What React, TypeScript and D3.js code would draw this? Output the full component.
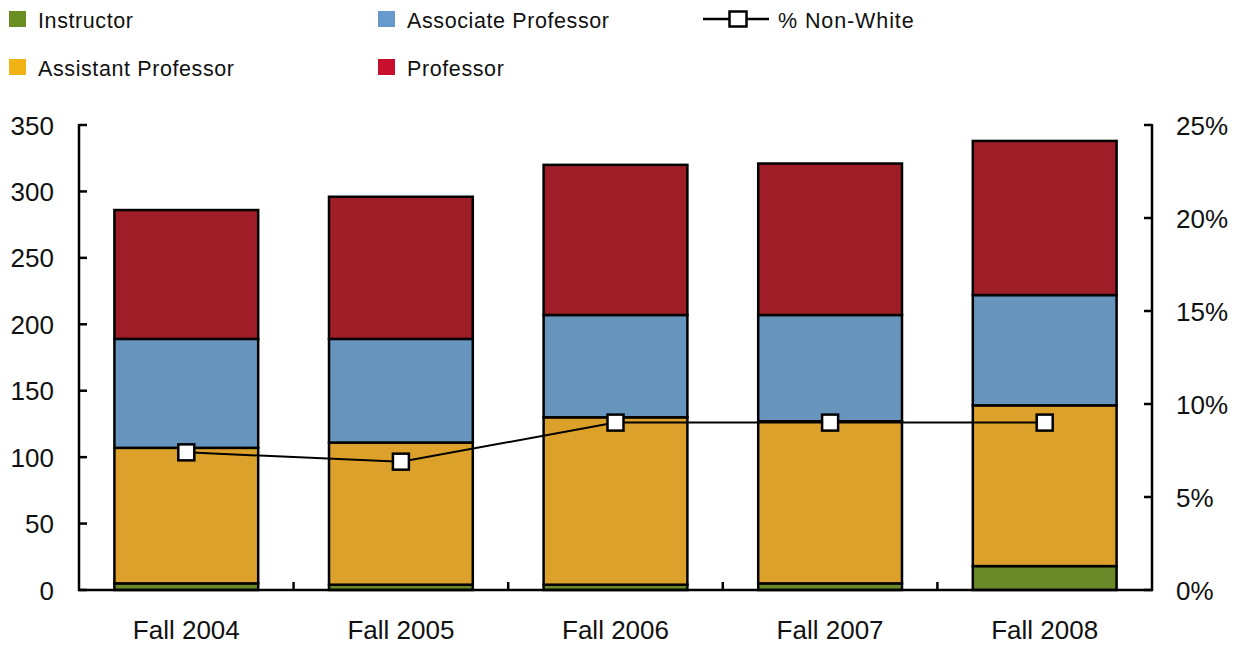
import React from 'react';
import * as d3 from 'd3';

const categories = ['Fall 2004', 'Fall 2005', 'Fall 2006', 'Fall 2007', 'Fall 2008'];
const instructor = [5, 4, 4, 5, 18];
const assistant = [102, 107, 126, 122, 121];
const associate = [82, 78, 77, 80, 83];
const professor = [97, 107, 113, 114, 116];
const nonWhite = [7.4, 6.9, 9.0, 9.0, 9.0];
const leftTicks = [0, 50, 100, 150, 200, 250, 300, 350];
const rightTicks = [0, 5, 10, 15, 20, 25];

const seriesNames = ['Instructor', 'Assistant Professor', 'Associate Professor', 'Professor'];
const barColors = ['#6a8a2a', '#dba12a', '#6795be', '#9e1d27'];
const legendColors = ['#6b8e23', '#f0b214', '#6699cc', '#c8102e'];

const W = 1238;
const H = 646;
const FONT = '"Liberation Sans", Arial, sans-serif';

const App: React.FC = () => {
  const x = d3.scaleBand<string>().domain(categories).range([79, 1152]).paddingInner(0.33).paddingOuter(0.165);
  const y = d3.scaleLinear().domain([0, 350]).range([590, 125]);
  const y2 = d3.scaleLinear().domain([0, 25]).range([590, 125]);

  // stack data
  const rows = categories.map((c, i) => ({
    cat: c,
    Instructor: instructor[i],
    'Assistant Professor': assistant[i],
    'Associate Professor': associate[i],
    Professor: professor[i],
  }));
  const stacked = d3.stack<any>().keys(seriesNames)(rows);

  const line = d3.line<number>()
    .x((_, i) => (x(categories[i]) as number) + x.bandwidth() / 2)
    .y(d => y2(d));

  const legend = [
    { i: 0, x: 9, y: 11 },
    { i: 1, x: 9, y: 59 },
    { i: 2, x: 378, y: 11 },
    { i: 3, x: 378, y: 59 },
  ];

  return (
    <svg width={W} height={H} style={{ position: 'absolute', left: 0, top: 0, fontFamily: FONT }}>
      <rect width={W} height={H} fill="#fff" />
      {/* legend */}
      {legend.map(l => (
        <g key={l.i}>
          <rect x={l.x} y={l.y} width={17} height={16} fill={legendColors[l.i]} />
          <text x={l.x + 29} y={l.y + 17} fontSize={21.5} letterSpacing={0.6} fill="#111">{seriesNames[l.i]}</text>
        </g>
      ))}
      <line x1={703} x2={769} y1={19} y2={19} stroke="#000" strokeWidth={2.5} />
      <rect x={729.5} y={11.5} width={17} height={15} fill="#fff" stroke="#000" strokeWidth={2.5} />
      <text x={778} y={28} fontSize={21.5} letterSpacing={0.9} fill="#111">% Non-White</text>

      {/* bars */}
      {stacked.map((s, si) => (
        <g key={s.key} fill={barColors[si]} stroke="#000" strokeWidth={2.5}>
          {s.map((d, i) => (
            <rect
              key={i}
              x={x(categories[i])}
              y={y(d[1])}
              width={x.bandwidth()}
              height={y(d[0]) - y(d[1])}
            />
          ))}
        </g>
      ))}

      {/* axes */}
      <g stroke="#000" strokeWidth={2.5}>
        <line x1={79} x2={79} y1={124} y2={591} />
        <line x1={1152} x2={1152} y1={124} y2={591} />
        <line x1={78} x2={1153} y1={590} y2={590} />
        {leftTicks.map(t => <line key={'l' + t} x1={79} x2={87} y1={y(t)} y2={y(t)} />)}
        {rightTicks.map(t => <line key={'r' + t} x1={1144} x2={1152} y1={y2(t)} y2={y2(t)} />)}
        {categories.slice(1).map(c => {
          const bx = (x(c) as number) - (x.step() - x.bandwidth()) / 2;
          return <line key={'b' + c} x1={bx} x2={bx} y1={582} y2={590} />;
        })}
      </g>
      {leftTicks.map(t => (
        <text key={'lt' + t} x={54} y={y(t) + 9.5} fontSize={26} textAnchor="end" fill="#111">{t}</text>
      ))}
      {rightTicks.map(t => (
        <text key={'rt' + t} x={1176} y={y2(t) + 9.5} fontSize={26} fill="#111">{t}%</text>
      ))}
      {categories.map(c => (
        <text key={'c' + c} x={(x(c) as number) + x.bandwidth() / 2} y={639} fontSize={26} textAnchor="middle" fill="#111">{c}</text>
      ))}

      {/* line */}
      <path d={line(nonWhite) || ''} fill="none" stroke="#000" strokeWidth={2} />
      {nonWhite.map((v, i) => (
        <rect
          key={'m' + i}
          x={(x(categories[i]) as number) + x.bandwidth() / 2 - 8}
          y={y2(v) - 8}
          width={16}
          height={16}
          fill="#fff"
          stroke="#000"
          strokeWidth={2.5}
        />
      ))}
    </svg>
  );
};

export default App;
